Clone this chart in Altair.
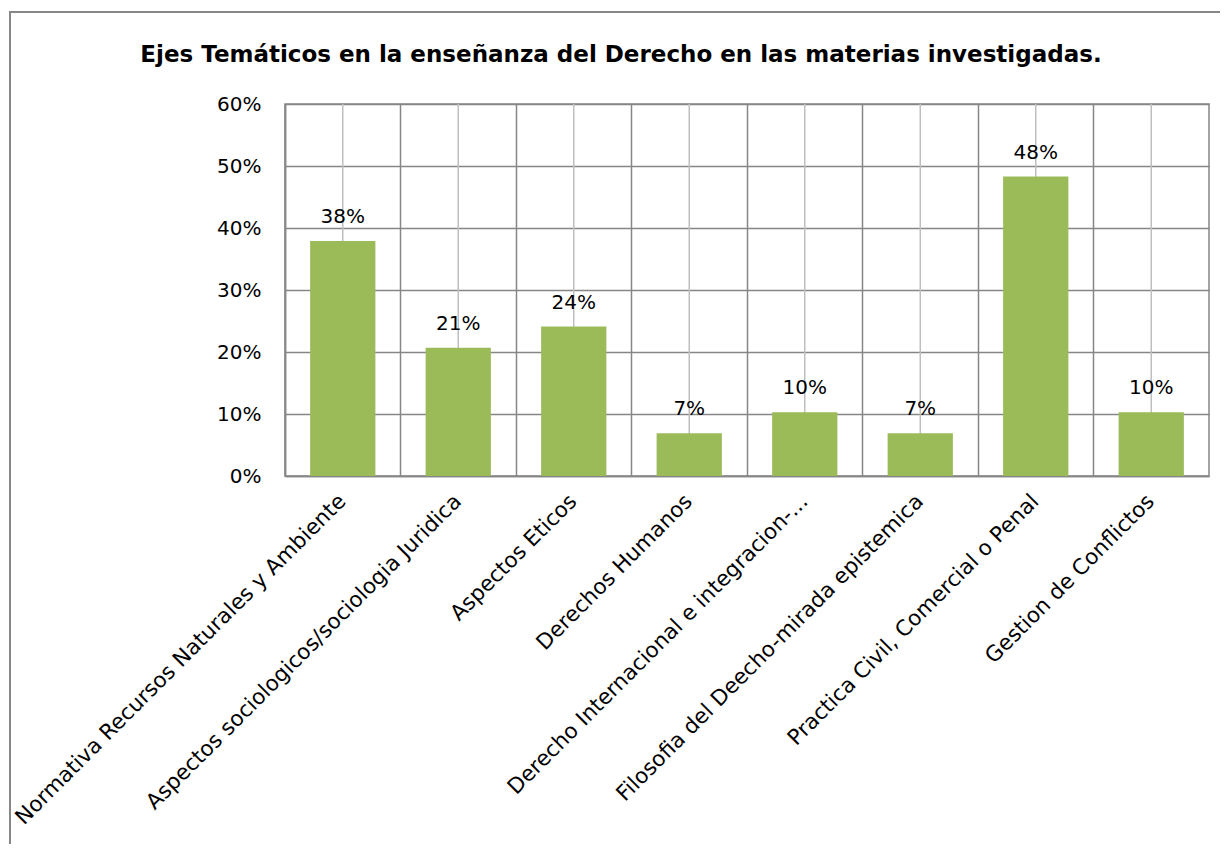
import altair as alt
import pandas as pd

categories = [
    "Normativa Recursos Naturales y Ambiente",
    "Aspectos sociologicos/sociologia Juridica",
    "Aspectos Eticos",
    "Derechos Humanos",
    "Derecho Internacional e integracion-...",
    "Filosofia del Deecho-mirada epistemica",
    "Practica Civil, Comercial o Penal",
    "Gestion de Conflictos",
]
values = [0.379, 0.207, 0.241, 0.069, 0.103, 0.069, 0.483, 0.103]
title_text = ["Ejes Temáticos en la enseñanza del Derecho en las materias investigadas."]

df = pd.DataFrame({"cat": categories, "val": values})
df_title = pd.DataFrame({"t": title_text})

FONT = "DejaVu Sans"
GRID = "#868686"

x_enc = alt.X(
    "cat:N",
    sort=categories,
    scale=alt.Scale(paddingInner=0, paddingOuter=0),
    axis=alt.Axis(
        title=None,
        labelAngle=-45,
        labelAlign="right",
        labelBaseline="middle",
        labelPadding=22,
        labelFont=FONT,
        labelFontSize=21.5,
        labelColor="#000000",
        labelLimit=700,
        ticks=False,
        grid=True,
        gridColor=GRID,
        gridWidth=1.5,
        bandPosition=0,
        domainColor=GRID,
        domainWidth=1.5,
    ),
)
y_enc = alt.Y(
    "val:Q",
    scale=alt.Scale(domain=[0, 0.6], nice=False),
    axis=alt.Axis(
        title=None,
        format=".0%",
        values=[0, 0.1, 0.2, 0.3, 0.4, 0.5, 0.6],
        labelFont=FONT,
        labelFontSize=20,
        labelColor="#000000",
        labelPadding=24,
        ticks=False,
        gridColor=GRID,
        gridWidth=1.5,
        domainColor=GRID,
        domainWidth=1.5,
    ),
)

base = alt.Chart(df)

center_rules = base.mark_rule(color="#BFBFBF", strokeWidth=1.5).encode(
    x=alt.X("cat:N", sort=categories)
)

bars = base.mark_bar(color="#9BBB59", width=alt.RelativeBandSize(0.565)).encode(
    x=x_enc, y=y_enc
)

labels = base.mark_text(
    baseline="bottom", dy=-14, font=FONT, fontSize=20, color="#000000"
).encode(
    x=alt.X("cat:N", sort=categories),
    y="val:Q",
    text=alt.Text("val:Q", format=".0%"),
)

border = base.mark_rect(filled=False, stroke="#878787", strokeWidth=2).encode(
    x=alt.value(-275), x2=alt.value(1000), y=alt.value(-92), y2=alt.value(800)
).transform_filter(alt.datum.cat == categories[0])

title = alt.Chart(df_title).mark_text(
    font=FONT, fontSize=23, fontWeight="bold", color="#000000",
    align="center", baseline="alphabetic",
).encode(x=alt.value(336), y=alt.value(-42), text="t:N")

chart = (
    alt.layer(border, center_rules, bars, labels, title)
    .properties(
        width=924,
        height=372,
        autosize=alt.AutoSizeParams(type="none"),
        padding={"left": 277, "top": 96, "right": 11, "bottom": 368},
    )
    .configure_view(stroke=GRID, strokeWidth=1.5)
)

chart.save("out.html", embed_options={"renderer": "svg", "actions": False})
